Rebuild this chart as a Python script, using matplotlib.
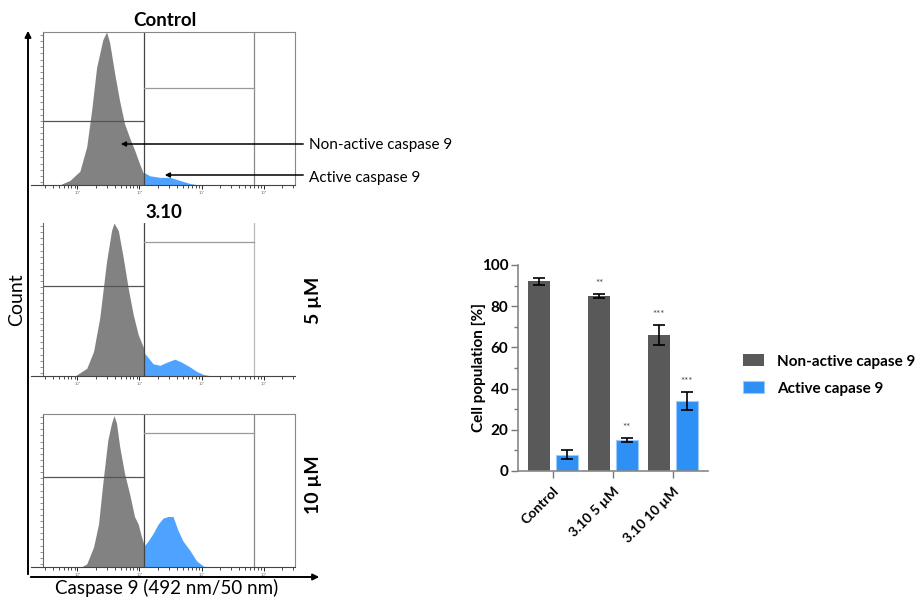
import matplotlib
matplotlib.use("Agg")
import matplotlib.pyplot as plt
import numpy as np
from matplotlib.patches import FancyArrowPatch

plt.rcParams['font.family'] = ['Lato', 'DejaVu Sans']

# --- histogramas (eixo x em decadas log10, y em fracao do pico) ---
ctrl_gray_x = [1.71, 1.88, 2.04, 2.15, 2.23, 2.31, 2.36, 2.41, 2.47, 2.52, 2.60, 2.68, 2.76, 2.84, 2.92, 3.00, 3.07]
ctrl_gray_y = [0.0, 0.03, 0.09, 0.25, 0.49, 0.77, 0.86, 0.95, 1.0, 0.93, 0.73, 0.55, 0.40, 0.31, 0.23, 0.14, 0.07]
ctrl_blue_x = [3.07, 3.08, 3.17, 3.33, 3.49, 3.65, 3.81, 3.97]
ctrl_blue_y = [0.0, 0.08, 0.06, 0.05, 0.05, 0.03, 0.01, 0.0]

d5_gray_x = [1.96, 2.15, 2.26, 2.36, 2.47, 2.55, 2.59, 2.66, 2.74, 2.82, 2.90, 2.98, 3.07]
d5_gray_y = [0.0, 0.05, 0.16, 0.38, 0.75, 0.95, 1.0, 0.95, 0.77, 0.57, 0.40, 0.27, 0.18]
d5_blue_x = [3.07, 3.08, 3.14, 3.22, 3.33, 3.44, 3.57, 3.68, 3.81, 3.92, 4.03, 4.16]
d5_blue_y = [0.0, 0.15, 0.12, 0.08, 0.07, 0.09, 0.11, 0.09, 0.06, 0.03, 0.01, 0.0]

d10_gray_x = [2.06, 2.15, 2.26, 2.34, 2.41, 2.49, 2.55, 2.59, 2.63, 2.68, 2.76, 2.84, 2.92, 2.98, 3.03, 3.07]
d10_gray_y = [0.0, 0.02, 0.13, 0.28, 0.55, 0.83, 0.94, 0.99, 0.94, 0.79, 0.61, 0.48, 0.33, 0.28, 0.20, 0.15]
d10_blue_x = [3.07, 3.08, 3.14, 3.22, 3.30, 3.38, 3.46, 3.54, 3.62, 3.70, 3.81, 3.92, 4.03, 4.19]
d10_blue_y = [0.0, 0.14, 0.17, 0.22, 0.28, 0.32, 0.33, 0.33, 0.24, 0.17, 0.11, 0.04, 0.005, 0.0]

# --- grafico de barras ---
grupos = ['Control', '3.10 5 µM', '3.10 10 µM']
nao_ativa = [92, 85, 66]
nao_ativa_err = [1.5, 1.0, 5.0]
ativa = [8, 15, 34]
ativa_err = [2.0, 1.0, 4.5]
sig_nao_ativa = ['', '**', '***']
sig_ativa = ['', '**', '***']

W, H = 921, 598
fig = plt.figure(figsize=(W / 100, H / 100), dpi=100)

def px(x0, y0, x1, y1):
    return [x0 / W, 1 - y1 / H, (x1 - x0) / W, (y1 - y0) / H]

cinza = '#828282'
azul = '#4da3ff'

paineis = [
    (px(43, 32, 295, 185), ctrl_gray_x, ctrl_gray_y, ctrl_blue_x, ctrl_blue_y, 0.42, 0.635, True),
    (px(43, 223, 295, 376), d5_gray_x, d5_gray_y, d5_blue_x, d5_blue_y, 0.59, 0.876, False),
    (px(43, 414, 295, 567), d10_gray_x, d10_gray_y, d10_blue_x, d10_blue_y, 0.59, 0.876, True),
]
for rect, gx, gy, bx_, by_, gate_l, gate_r, caixa in paineis:
    ax = fig.add_axes(rect)
    ax.fill_between(gx, gy, color=cinza, lw=0)
    ax.fill_between(bx_, by_, color=azul, lw=0)
    ax.set_xlim(1.446, 5.505)
    ax.set_ylim(0, 1.0)
    ax.axvline(3.075, color='#444444', lw=0.9)
    ax.axvline(4.844, color='#888888' if caixa else '#bbbbbb', lw=0.9)
    ax.plot([1.446, 3.075], [gate_l, gate_l], color='#555555', lw=0.9)
    ax.plot([3.075, 4.844], [gate_r, gate_r], color='#999999', lw=0.9)
    for s in ['top', 'right']:
        ax.spines[s].set_visible(caixa)
        ax.spines[s].set_color('#888888')
    ax.spines['left'].set_color('#666666')
    ax.spines['bottom'].set_color('#444444')
    ax.spines['bottom'].set_bounds(1.25, 5.505)
    ax.set_xticks([2, 3, 4, 5])
    ax.set_xticklabels(['10²', '10³', '10⁴', '10⁵'], fontsize=3, color='#777777')
    ax.set_xticks([d + np.log10(m) for d in [1, 2, 3, 4, 5] for m in range(2, 10)
                   if 1.45 < d + np.log10(m) < 5.5], minor=True)
    ax.tick_params(axis='x', which='major', length=3, width=0.6, pad=1)
    ax.tick_params(axis='x', which='minor', length=2, width=0.5)
    ax.set_yticks(np.linspace(0.1, 0.9, 5))
    ax.set_yticklabels(['', '', '', '', ''])
    ax.set_yticks(np.linspace(0.02, 0.98, 25), minor=True)
    ax.tick_params(axis='y', which='both', length=2, width=0.5, color='#666666')

# titulos e rotulos dos histogramas
fig.text(165 / W, 1 - 21 / H, 'Control', ha='center', va='center', fontsize=13.5, fontweight='bold')
fig.text(164 / W, 1 - 212 / H, '3.10', ha='center', va='center', fontsize=13.5, fontweight='bold')
fig.text(313 / W, 1 - 300 / H, '5 µM', ha='center', va='center', fontsize=14, fontweight='bold', rotation=90)
fig.text(313 / W, 1 - 485 / H, '10 µM', ha='center', va='center', fontsize=14, fontweight='bold', rotation=90)
fig.text(17 / W, 1 - 300 / H, 'Count', ha='center', va='center', fontsize=14, rotation=90)
fig.text(167 / W, 1 - 588 / H, 'Caspase 9 (492 nm/50 nm)', ha='center', va='center', fontsize=13.5)

# eixos gerais com setas
fig.add_artist(FancyArrowPatch((28 / W, 1 - 577 / H), (28 / W, 1 - 28 / H), transform=fig.transFigure,
                               arrowstyle='-|>', mutation_scale=9, lw=1.4, color='black'))
fig.add_artist(FancyArrowPatch((28 / W, 1 - 577 / H), (322 / W, 1 - 577 / H), transform=fig.transFigure,
                               arrowstyle='-|>', mutation_scale=9, lw=1.4, color='black'))

# setas de anotacao
fig.add_artist(FancyArrowPatch((306 / W, 1 - 144 / H), (118 / W, 1 - 144 / H), transform=fig.transFigure,
                               arrowstyle='-|>', mutation_scale=7, lw=1.1, color='black'))
fig.add_artist(FancyArrowPatch((306 / W, 1 - 175 / H), (162 / W, 1 - 175 / H), transform=fig.transFigure,
                               arrowstyle='-|>', mutation_scale=7, lw=1.1, color='black'))
fig.text(309 / W, 1 - 145 / H, 'Non-active caspase 9', ha='left', va='center', fontsize=11)
fig.text(309 / W, 1 - 178 / H, 'Active caspase 9', ha='left', va='center', fontsize=11)

# --- barras ---
bx = fig.add_axes(px(518, 265, 708, 471))
x = np.arange(len(grupos))
larg = 0.367
off = 0.233
cor_nao = '#595959'
cor_at = '#2e8ff5'
bx.bar(x - off, nao_ativa, larg, color=cor_nao, yerr=nao_ativa_err, capsize=4,
       error_kw=dict(lw=1.2, capthick=1.2, ecolor='black'), label='Non-active capase 9')
bx.bar(x + off, ativa, larg, color=cor_at, edgecolor='#9ccaff', lw=0.8, yerr=ativa_err, capsize=4,
       error_kw=dict(lw=1.2, capthick=1.2, ecolor='black'), label='Active capase 9')
for i in range(len(grupos)):
    if sig_nao_ativa[i]:
        bx.text(x[i] - off, nao_ativa[i] + nao_ativa_err[i] + 5, sig_nao_ativa[i], ha='center', va='center',
                fontsize=7, color='#444444')
    if sig_ativa[i]:
        bx.text(x[i] + off, ativa[i] + ativa_err[i] + 5, sig_ativa[i], ha='center', va='center',
                fontsize=7, color='#444444')
bx.set_xlim(-0.583, 2.583)
bx.set_ylim(0, 100)
bx.set_yticks([0, 20, 40, 60, 80, 100])
bx.set_yticks(range(10, 100, 20), minor=True)
bx.set_xticks(x)
bx.set_xticklabels(grupos, rotation=45, ha='right', rotation_mode='anchor', fontweight='bold', fontsize=10)
for lab in bx.get_yticklabels():
    lab.set_fontweight('bold')
    lab.set_fontsize(11)
bx.tick_params(axis='both', which='both', color='#777777', width=1.0)
bx.tick_params(axis='x', length=5, pad=5)
bx.tick_params(axis='y', which='major', length=5, pad=2)
bx.tick_params(axis='y', which='minor', length=3)
for s in ['top', 'right']:
    bx.spines[s].set_visible(False)
for s in ['left', 'bottom']:
    bx.spines[s].set_color('#888888')
    bx.spines[s].set_linewidth(1.2)
bx.set_ylabel('Cell population [%]', fontweight='bold', fontsize=11, labelpad=-3)
bx.legend(loc='center left', bbox_to_anchor=(743 / W, 1 - 375 / H), bbox_transform=fig.transFigure,
          frameon=False, borderpad=0, borderaxespad=0, handlelength=1.4, handleheight=0.8,
          handletextpad=0.85, labelspacing=0.85, prop=dict(weight='bold', size=11))

fig.savefig('out.png', dpi=100)
